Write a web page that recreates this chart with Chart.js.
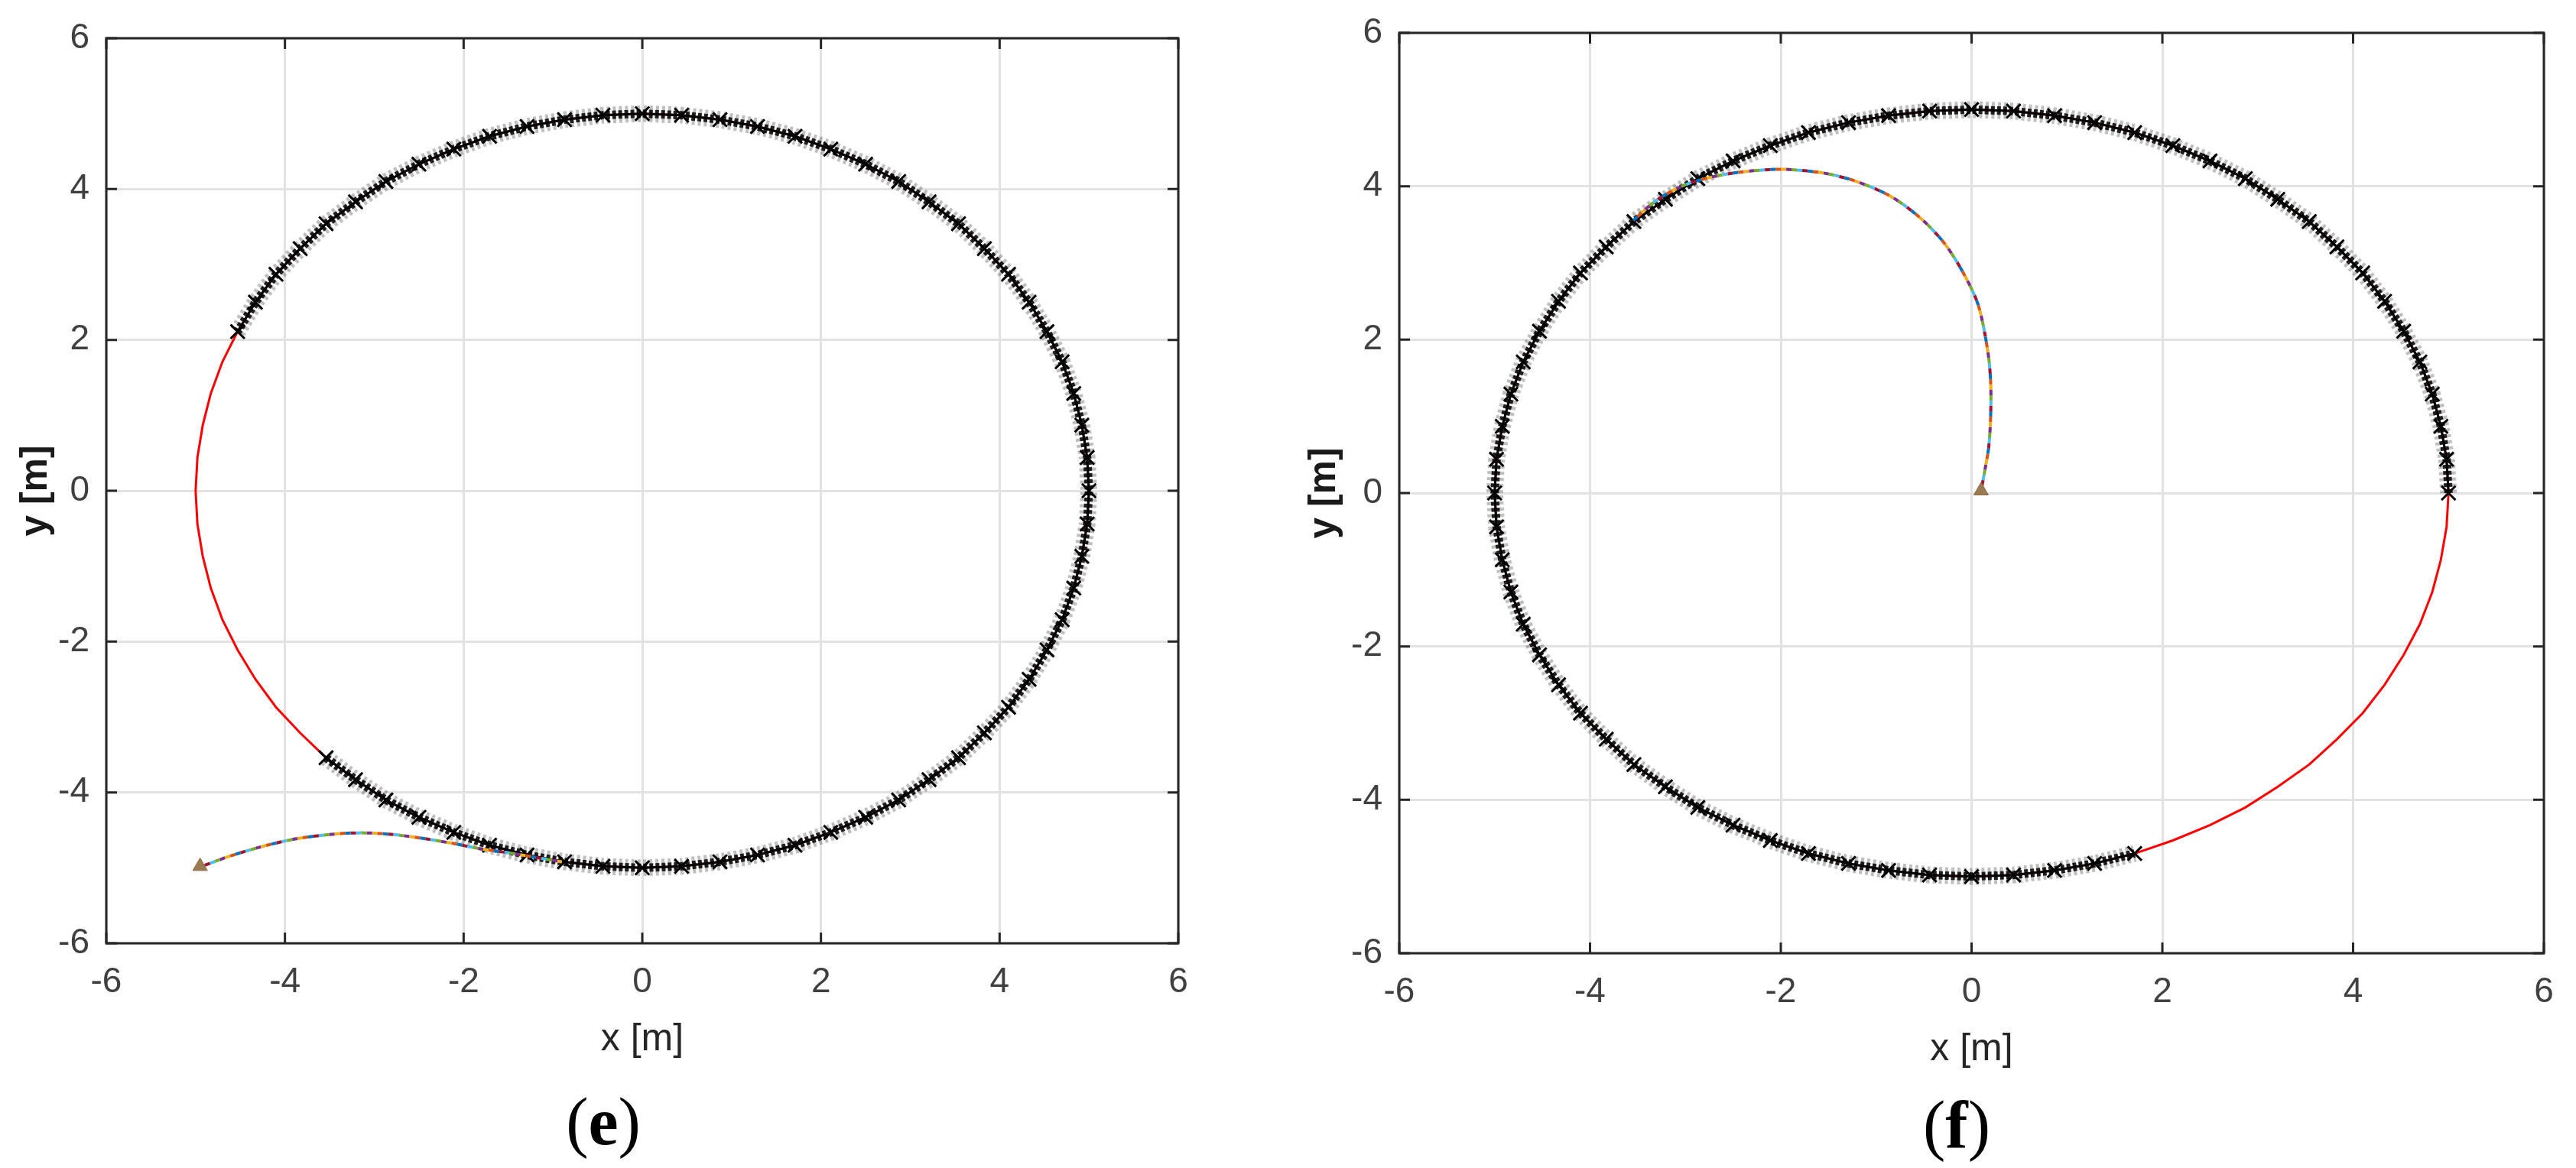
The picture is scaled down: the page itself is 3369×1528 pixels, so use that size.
<!DOCTYPE html>
<html>
<head>
<meta charset="utf-8">
<title>Trajectories (e) and (f)</title>
<script src="https://cdn.jsdelivr.net/npm/chart.js@4.4.1/dist/chart.umd.min.js"></script>
<style>
    html, body { margin: 0; padding: 0; background: #fff; }
    body { width: 3369px; height: 1528px; position: relative; overflow: hidden; }
    .panel { position: absolute; top: 0; height: 1528px; }
    .panel canvas { display: block; }
    #panel-e { left: 0; width: 1690px; }
    #panel-f { left: 1690px; width: 1679px; }
    .caption {
        position: absolute;
        transform: translate(-50%, -50%);
        font-family: 'Liberation Serif', 'Times New Roman', serif;
        font-size: 88px;
        line-height: 1;
        color: #000;
        white-space: nowrap;
    }
</style>
</head>
<body>
<div class="panel" id="panel-e"><canvas id="chartE" width="1690" height="1528"></canvas></div>
<div class="panel" id="panel-f"><canvas id="chartF" width="1679" height="1528"></canvas></div>
<div class="caption" style="left:789px; top:1468px;">(<b>e</b>)</div>
<div class="caption" style="left:2559px; top:1472px;">(<b>f</b>)</div>

<script>
/* ---- data ---- */

const AXIS_TICKS = [-6, -4, -2, 0, 2, 4, 6];

// reference circle, r = 5 m, one point every 5 deg starting at (5, 0), counter-clockwise
const CIRCLE_X = [5.00, 4.98, 4.92, 4.83, 4.70, 4.53, 4.33, 4.10, 3.83, 3.54, 3.21, 2.87, 2.50, 2.11, 1.71, 1.29, 0.87, 0.44, 0.00,
    -0.44, -0.87, -1.29, -1.71, -2.11, -2.50, -2.87, -3.21, -3.54, -3.83, -4.10, -4.33, -4.53, -4.70, -4.83, -4.92, -4.98, -5.00,
    -4.98, -4.92, -4.83, -4.70, -4.53, -4.33, -4.10, -3.83, -3.54, -3.21, -2.87, -2.50, -2.11, -1.71, -1.29, -0.87, -0.44, 0.00,
    0.44, 0.87, 1.29, 1.71, 2.11, 2.50, 2.87, 3.21, 3.54, 3.83, 4.10, 4.33, 4.53, 4.70, 4.83, 4.92, 4.98, 5.00];
const CIRCLE_Y = [0.00, 0.44, 0.87, 1.29, 1.71, 2.11, 2.50, 2.87, 3.21, 3.54, 3.83, 4.10, 4.33, 4.53, 4.70, 4.83, 4.92, 4.98, 5.00,
    4.98, 4.92, 4.83, 4.70, 4.53, 4.33, 4.10, 3.83, 3.54, 3.21, 2.87, 2.50, 2.11, 1.71, 1.29, 0.87, 0.44, 0.00,
    -0.44, -0.87, -1.29, -1.71, -2.11, -2.50, -2.87, -3.21, -3.54, -3.83, -4.10, -4.33, -4.53, -4.70, -4.83, -4.92, -4.98, -5.00,
    -4.98, -4.92, -4.83, -4.70, -4.53, -4.33, -4.10, -3.83, -3.54, -3.21, -2.87, -2.50, -2.11, -1.71, -1.29, -0.87, -0.44, 0.00];

// (e) approach path from the start point to the circle
const PATH_E_X = [-4.95, -4.75, -4.50, -4.20, -3.90, -3.60, -3.30, -3.00, -2.70, -2.40, -2.10, -1.80, -1.50, -1.20, -0.90];
const PATH_E_Y = [-4.99, -4.90, -4.80, -4.70, -4.62, -4.57, -4.54, -4.54, -4.57, -4.62, -4.68, -4.75, -4.80, -4.86, -4.92];
const START_E = [-4.95, -4.98];
// (e) marked part of the circle: from 225 deg round to 155 deg (indices into the circle)
const TRACK_E = [[45, 72], [0, 32]];

// (f) approach path, spiral out from the origin
const PATH_F_X = [0.10, 0.14, 0.18, 0.20, 0.20, 0.17, 0.07, -0.10, -0.30, -0.55, -0.85, -1.20, -1.54, -1.95, -2.31, -2.65, -3.00, -3.30, -3.55];
const PATH_F_Y = [0.03, 0.30, 0.60, 1.00, 1.45, 1.85, 2.45, 2.90, 3.28, 3.60, 3.87, 4.06, 4.17, 4.22, 4.20, 4.14, 4.02, 3.82, 3.55];
const START_F = [0.10, 0.03];
// (f) marked part of the circle: from 0 deg round to 290 deg
const TRACK_F = [[0, 59]];

/* ---- styling ---- */

const FONT = "'Liberation Sans', Arial, Helvetica, sans-serif";
const TICK_COLOR = '#404040';
const AXIS_COLOR = '#262626';
const GRID_COLOR = '#e2e2e2';
const LINE_COLORS = ['#0072BD', '#D95319', '#EDB120', '#7E2F8E', '#77AC30', '#4DBEEE', '#A2142F'];

function toPoints(xs, ys) {
    return xs.map((x, i) => ({ x: x, y: ys[i] }));
}

const circlePts = toPoints(CIRCLE_X, CIRCLE_Y);

function trackPoints(ranges) {
    let out = [];
    ranges.forEach(r => { out = out.concat(circlePts.slice(r[0], r[1])); });
    return out;
}

// MATLAB style box with inward ticks on all four sides
const boxFrame = {
    id: 'boxFrame',
    afterDraw(chart) {
        const { ctx, chartArea: a, scales: { x, y } } = chart;
        const len = 14;
        ctx.save();
        ctx.strokeStyle = AXIS_COLOR;
        ctx.lineWidth = 3;
        ctx.beginPath();
        AXIS_TICKS.forEach(v => {
            const px = x.getPixelForValue(v);
            ctx.moveTo(px, a.bottom); ctx.lineTo(px, a.bottom - len);
            ctx.moveTo(px, a.top);    ctx.lineTo(px, a.top + len);
            const py = y.getPixelForValue(v);
            ctx.moveTo(a.left, py);  ctx.lineTo(a.left + len, py);
            ctx.moveTo(a.right, py); ctx.lineTo(a.right - len, py);
        });
        ctx.stroke();
        ctx.strokeRect(a.left, a.top, a.right - a.left, a.bottom - a.top);
        ctx.restore();
    }
};

function makePanel(canvasId, opt) {
    const path = toPoints(opt.pathX, opt.pathY);
    const track = trackPoints(opt.track);

    const datasets = [];

    // start marker (several coloured triangles on top of each other)
    datasets.push({
        data: [{ x: opt.start[0], y: opt.start[1] }],
        pointStyle: 'triangle',
        pointRadius: 11,
        pointBackgroundColor: '#9c7b52',
        pointBorderColor: '#8a6a44',
        pointBorderWidth: 1,
    });

    // overlapping coloured runs -> dashed multicolour line
    LINE_COLORS.forEach((c, i) => {
        datasets.push({
            data: path,
            showLine: true,
            borderColor: c,
            borderWidth: 4,
            borderDash: [7, 42],
            borderDashOffset: i * 7,
            tension: 0.3,
            pointRadius: 0,
        });
    });

    // measured positions, black x markers over a dark textured band
    datasets.push({
        data: track,
        showLine: true,
        borderColor: '#000',
        borderWidth: 3,
        pointStyle: 'crossRot',
        pointRadius: 13,
        pointBorderWidth: 3,
        pointBorderColor: '#000',
        pointBackgroundColor: '#000',
    });
    datasets.push({
        data: track,
        showLine: true,
        borderColor: 'rgba(0,0,0,0.85)',
        borderWidth: 11,
        borderDash: [5, 3],
        pointRadius: 0,
    });
    datasets.push({
        data: track,
        showLine: true,
        borderColor: 'rgba(0,0,0,0.25)',
        borderWidth: 22,
        borderDash: [4, 4],
        pointRadius: 0,
    });

    // reference circle
    datasets.push({
        data: circlePts,
        showLine: true,
        borderColor: '#ff0000',
        borderWidth: 3,
        pointRadius: 0,
    });

    new Chart(document.getElementById(canvasId), {
        type: 'scatter',
        data: { datasets: datasets },
        plugins: [boxFrame],
        options: {
            responsive: false,
            animation: false,
            events: [],
            layout: { padding: opt.padding },
            plugins: {
                legend: { display: false },
                tooltip: { enabled: false },
            },
            scales: {
                x: {
                    type: 'linear',
                    min: -6,
                    max: 6,
                    afterBuildTicks: s => { s.ticks = AXIS_TICKS.map(v => ({ value: v })); },
                    afterFit: s => { s.height = opt.xAxisH; s.paddingLeft = 0; s.paddingRight = 0; },
                    grid: { color: GRID_COLOR, lineWidth: 3, drawTicks: false },
                    border: { display: false },
                    ticks: { padding: 24, color: TICK_COLOR, font: { family: FONT, size: 46 }, maxRotation: 0, autoSkip: false },
                    title: { display: true, text: 'x [m]', color: AXIS_COLOR, padding: 0, font: { family: FONT, size: 50 } },
                },
                y: {
                    type: 'linear',
                    min: -6,
                    max: 6,
                    afterBuildTicks: s => { s.ticks = AXIS_TICKS.map(v => ({ value: v })); },
                    afterFit: s => { s.width = opt.yAxisW; s.paddingTop = 0; s.paddingBottom = 0; },
                    grid: { color: GRID_COLOR, lineWidth: 3, drawTicks: false },
                    border: { display: false },
                    ticks: { padding: 22, color: TICK_COLOR, font: { family: FONT, size: 46 }, autoSkip: false },
                    title: { display: true, text: 'y [m]', color: '#1a1a1a', padding: 0, font: { family: FONT, size: 50, weight: 'bold' } },
                },
            },
        },
    });
}

document.addEventListener('DOMContentLoaded', () => {
    makePanel('chartE', {
        pathX: PATH_E_X, pathY: PATH_E_Y, start: START_E, track: TRACK_E,
        padding: { left: 17, top: 50, right: 149, bottom: 138 },
        yAxisW: 122, xAxisH: 156,
    });
    makePanel('chartF', {
        pathX: PATH_F_X, pathY: PATH_F_Y, start: START_F, track: TRACK_F,
        padding: { left: 12, top: 43, right: 42, bottom: 125 },
        yAxisW: 128, xAxisH: 156,
    });
});
</script>
</body>
</html>
